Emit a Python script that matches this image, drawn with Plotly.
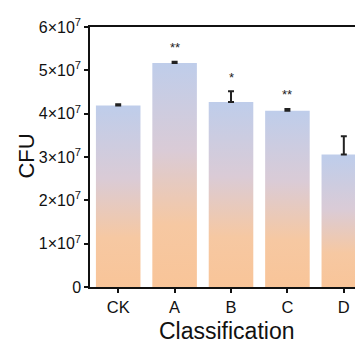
import plotly.graph_objects as go

categories = ["CK", "A", "B", "C", "D"]
cfu_mean = [4.19e7, 5.17e7, 4.27e7, 4.07e7, 3.06e7]
cfu_err = [0.03e7, 0.03e7, 0.25e7, 0.04e7, 0.42e7]
significance = ["", "**", "*", "**", ""]
ytick_vals = [0, 1e7, 2e7, 3e7, 4e7, 5e7, 6e7]
ytick_text = ["0"] + [f"{k}×10<sup>7</sup>" for k in range(1, 7)]

bar_width = 0.79
font_family = "Liberation Sans, Arial, sans-serif"
grad = [[0, "#f9c497"], [0.3, "#f6c8a2"], [0.62, "#dacbd6"], [1, "#bfcdea"]]

# page offset of the figure (browser body margin) is 8 px
L, T, R, B = 82, 12, 8, 65
W, H = 363, 344
plot_w = W - L - R
plot_h = H - T - B

fig = go.Figure()
xs = list(range(len(categories)))
for i, v in zip(xs, cfu_mean):
    fig.add_trace(go.Scatter(
        x=[i - bar_width / 2, i + bar_width / 2, i + bar_width / 2, i - bar_width / 2, i - bar_width / 2],
        y=[0, 0, v, v, 0],
        mode="lines", fill="toself",
        line=dict(width=0, color="rgba(0,0,0,0)"),
        fillgradient=dict(type="vertical", colorscale=grad, start=0, stop=v),
        hoverinfo="skip", showlegend=False,
    ))

fig.add_trace(go.Scatter(
    x=xs, y=cfu_mean, mode="markers",
    marker=dict(size=1, color="rgba(0,0,0,0)"),
    error_y=dict(type="data", symmetric=False, array=cfu_err,
                 arrayminus=[0] * len(cfu_err), color="#222", thickness=2, width=3),
    showlegend=False,
))

for i, (v, e, s) in enumerate(zip(cfu_mean, cfu_err, significance)):
    if s:
        fig.add_annotation(x=i, y=v + e, text=s, showarrow=False, yanchor="middle",
                           yshift=14, font=dict(size=13, color="#222", family=font_family))

fig.add_annotation(xref="paper", yref="paper", x=(19 - L) / plot_w, y=(279 - 145) / plot_h,
                   text="CFU", textangle=-90, showarrow=False, xanchor="center", yanchor="middle",
                   font=dict(size=22, color="#111", family=font_family))
fig.add_annotation(xref="paper", yref="paper", x=0.5, y=(279 - 324) / plot_h, text="Classification",
                   showarrow=False, xanchor="center", yanchor="middle",
                   font=dict(size=23, color="#111", family=font_family))

fig.update_layout(
    width=W, height=H,
    margin=dict(l=L, r=R, t=T, b=B),
    plot_bgcolor="white", paper_bgcolor="white",
    font=dict(family=font_family, size=16, color="#111"),
    xaxis=dict(range=[-0.5, 4.34], tickvals=xs, ticktext=categories, showgrid=False,
               zeroline=False, showline=True, linecolor="#111", linewidth=1.5, mirror=True,
               ticks="outside", ticklen=4, tickwidth=1.5, tickcolor="#111",
               tickfont=dict(size=16.5)),
    yaxis=dict(range=[0, 6e7], tickvals=ytick_vals, ticktext=ytick_text, showgrid=False,
               zeroline=False, showline=True, linecolor="#111", linewidth=1.5,
               ticks="outside", ticklen=4, tickwidth=1.5, tickcolor="#111",
               tickfont=dict(size=16)),
)

fig.write_html("out.html")
